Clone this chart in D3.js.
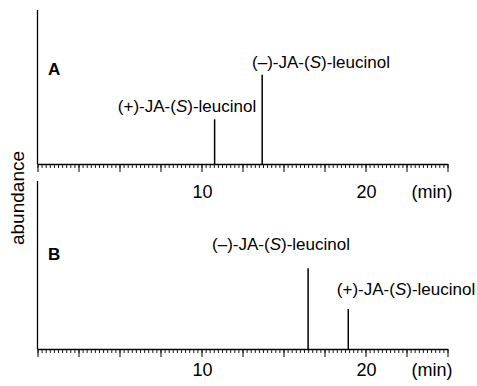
<!DOCTYPE html>
<html><head><meta charset="utf-8">
<script src="https://cdn.jsdelivr.net/npm/d3@7"></script>
<style>body{margin:0;background:#fff}svg{display:block}text{font-family:"Liberation Sans",Arial,sans-serif;fill:#000}</style>
</head><body>
<script>
// Data
const panels = ["A", "B"];
const peakNamesA = ["(+)", "(\u2013)"];
const peakTimesA = [10.8, 13.7];
const peakHeightsA = [29, 58];
const peakNamesB = ["(\u2013)", "(+)"];
const peakTimesB = [16.5, 18.95];
const peakHeightsB = [52.5, 26];
const majorTickLabels = [10, 20];
const xUnit = "(min)";
const yLabel = "abundance";

const W = 477, H = 386;
const svg = d3.select("body").append("svg").attr("width", W).attr("height", H);

const x = d3.scaleLinear().domain([0, 25]).range([37.5, 447.5]);

const layout = [
  {name: "A", names: peakNamesA, times: peakTimesA, heights: peakHeightsA, base: 164, top: 10, lblY: 198, letterY: 75,
   labelPos: [[187, 112], [321, 68]]},
  {name: "B", names: peakNamesB, times: peakTimesB, heights: peakHeightsB, base: 349, top: 181, lblY: 376, letterY: 260,
   labelPos: [[281, 250], [406, 295]]}
];

layout.forEach(p => {
  const y = d3.scaleLinear().domain([0, 100]).range([p.base, p.base - 154]);
  const g = svg.append("g");
  // left axis line
  g.append("line").attr("x1", x(0)).attr("x2", x(0)).attr("y1", p.top).attr("y2", p.base)
    .attr("stroke", "#000").attr("stroke-width", 1.3);
  // minor ticks
  const minor = d3.axisBottom(x).tickValues(d3.range(0, 25.001, 0.25)).tickSize(4).tickFormat("").tickSizeOuter(0);
  const gm = g.append("g").attr("transform", `translate(0,${p.base})`).call(minor);
  gm.select(".domain").attr("stroke-width", 1.3);
  gm.selectAll(".tick line").attr("stroke-width", 0.9);
  // major ticks
  const major = d3.axisBottom(x).tickValues(d3.range(0, 25.001, 2.5)).tickSize(8).tickFormat("").tickSizeOuter(0);
  const gM = g.append("g").attr("transform", `translate(0,${p.base})`).call(major);
  gM.select(".domain").remove();
  gM.selectAll(".tick line").attr("stroke-width", 1);
  // tick labels
  g.selectAll("text.tl").data(majorTickLabels).enter().append("text").attr("class", "tl")
    .attr("x", d => x(d) + 1).attr("y", p.lblY).attr("text-anchor", "middle")
    .style("font-size", "18px").text(d => d);
  g.append("text").attr("x", 432).attr("y", p.lblY).attr("text-anchor", "middle")
    .style("font-size", "18px").text(xUnit);
  // panel letter
  g.append("text").attr("x", 48).attr("y", p.letterY).style("font-size", "17px").style("font-weight", "bold").text(p.name);
  // peaks
  g.selectAll("line.pk").data(p.times).enter().append("line").attr("class", "pk")
    .attr("x1", d => x(d)).attr("x2", d => x(d))
    .attr("y1", p.base).attr("y2", (d, i) => y(p.heights[i]))
    .attr("stroke", "#000").attr("stroke-width", 1.5);
  // peak labels
  p.names.forEach((n, i) => {
    const t = g.append("text").attr("x", p.labelPos[i][0]).attr("y", p.labelPos[i][1])
      .attr("text-anchor", "middle").style("font-size", "17px");
    t.append("tspan").text(n + "-JA-(");
    t.append("tspan").style("font-style", "italic").text("S");
    t.append("tspan").text(")-leucinol");
  });
});

svg.append("text").attr("transform", "translate(24,198) rotate(-90)").attr("text-anchor", "middle")
  .style("font-size", "19px").text(yLabel);
</script>
</body></html>
